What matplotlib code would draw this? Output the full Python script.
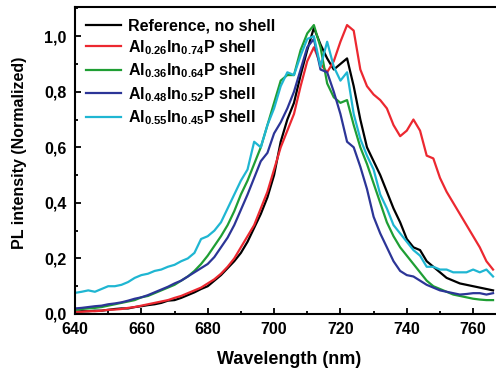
import matplotlib
matplotlib.use("Agg")
import matplotlib.pyplot as plt
from matplotlib.ticker import MultipleLocator, FuncFormatter

plt.rcParams['font.family'] = ['Liberation Sans', 'DejaVu Sans']
plt.rcParams['font.weight'] = 'bold'
plt.rcParams['mathtext.fontset'] = 'custom'
plt.rcParams['mathtext.rm'] = 'Liberation Sans:bold'
plt.rcParams['mathtext.bf'] = 'Liberation Sans:bold'
plt.rcParams['mathtext.it'] = 'Liberation Sans:bold'

wavelength = list(range(640, 767, 2))

reference = [0.008, 0.010, 0.010, 0.012, 0.012, 0.015, 0.018, 0.020, 0.020, 0.025,
             0.028, 0.032, 0.035, 0.040, 0.048, 0.050, 0.058, 0.068, 0.078, 0.090,
             0.100, 0.120, 0.140, 0.165, 0.190, 0.220, 0.260, 0.310, 0.360, 0.420,
             0.500, 0.620, 0.700, 0.760, 0.860, 0.950, 1.030, 0.970, 0.920, 0.880,
             0.900, 0.920, 0.820, 0.700, 0.600, 0.550, 0.500, 0.440, 0.380, 0.330,
             0.270, 0.240, 0.230, 0.190, 0.170, 0.150, 0.130, 0.120, 0.110, 0.105,
             0.100, 0.095, 0.090, 0.085]

al26 = [0.008, 0.008, 0.010, 0.010, 0.012, 0.015, 0.016, 0.018, 0.022, 0.025,
        0.030, 0.035, 0.040, 0.045, 0.050, 0.058, 0.065, 0.075, 0.085, 0.095,
        0.110, 0.125, 0.145, 0.170, 0.200, 0.240, 0.280, 0.320, 0.380, 0.440,
        0.520, 0.600, 0.660, 0.720, 0.820, 0.910, 0.960, 0.900, 0.870, 0.910,
        0.980, 1.040, 1.020, 0.880, 0.820, 0.790, 0.770, 0.740, 0.680, 0.640,
        0.660, 0.700, 0.660, 0.570, 0.560, 0.490, 0.440, 0.400, 0.360, 0.320,
        0.280, 0.240, 0.190, 0.160]

al36 = [0.015, 0.018, 0.020, 0.022, 0.025, 0.030, 0.035, 0.040, 0.045, 0.050,
        0.060, 0.065, 0.075, 0.085, 0.095, 0.105, 0.120, 0.135, 0.155, 0.180,
        0.210, 0.245, 0.280, 0.320, 0.370, 0.430, 0.480, 0.540, 0.600, 0.680,
        0.760, 0.840, 0.860, 0.860, 0.950, 1.010, 1.040, 0.960, 0.830, 0.780,
        0.760, 0.770, 0.680, 0.600, 0.540, 0.470, 0.400, 0.330, 0.280, 0.240,
        0.210, 0.180, 0.150, 0.120, 0.100, 0.090, 0.080, 0.070, 0.065, 0.060,
        0.055, 0.052, 0.050, 0.050]

al48 = [0.020, 0.022, 0.025, 0.028, 0.030, 0.035, 0.038, 0.042, 0.048, 0.055,
        0.060, 0.068, 0.078, 0.088, 0.098, 0.110, 0.120, 0.135, 0.150, 0.165,
        0.180, 0.205, 0.240, 0.275, 0.320, 0.375, 0.430, 0.490, 0.550, 0.580,
        0.650, 0.690, 0.740, 0.800, 0.880, 0.960, 0.990, 0.880, 0.870, 0.800,
        0.720, 0.620, 0.600, 0.530, 0.450, 0.350, 0.290, 0.240, 0.190, 0.155,
        0.140, 0.135, 0.120, 0.105, 0.095, 0.085, 0.080, 0.075, 0.070, 0.072,
        0.075, 0.075, 0.070, 0.075]

al55 = [0.076, 0.080, 0.085, 0.080, 0.090, 0.100, 0.100, 0.105, 0.115, 0.130,
        0.140, 0.145, 0.155, 0.160, 0.170, 0.177, 0.190, 0.200, 0.220, 0.270,
        0.280, 0.300, 0.330, 0.380, 0.430, 0.480, 0.520, 0.620, 0.600, 0.680,
        0.740, 0.820, 0.870, 0.860, 0.930, 0.990, 1.000, 0.890, 0.980, 0.890,
        0.840, 0.870, 0.720, 0.630, 0.570, 0.520, 0.430, 0.380, 0.320, 0.290,
        0.260, 0.230, 0.210, 0.170, 0.170, 0.160, 0.160, 0.150, 0.150, 0.150,
        0.160, 0.150, 0.160, 0.135]

labels = ['Reference, no shell',
          r'Al$_{0.26}$In$_{0.74}$P shell',
          r'Al$_{0.36}$In$_{0.64}$P shell',
          r'Al$_{0.48}$In$_{0.52}$P shell',
          r'Al$_{0.55}$In$_{0.45}$P shell']
series = [reference, al26, al36, al48, al55]
colors = ['#000000', '#ec2830', '#1f9e34', '#2c3597', '#1fb6d2']

fig = plt.figure(figsize=(4.96, 3.69), dpi=100)
W, H = 496, 369
ax = fig.add_axes([75 / W, 55 / H, 428 / W, 307 / H])

for y, c, lab in zip(series, colors, labels):
    ax.plot(wavelength, y, color=c, lw=1.6, label=lab)

ax.set_xlim(640, 769)
ax.set_ylim(0, 1.105)
ax.xaxis.set_major_locator(MultipleLocator(20))
ax.xaxis.set_minor_locator(MultipleLocator(10))
ax.yaxis.set_major_locator(MultipleLocator(0.2))
ax.yaxis.set_minor_locator(MultipleLocator(0.1))
ax.yaxis.set_major_formatter(FuncFormatter(lambda v, p: f"{v:.1f}".replace('.', ',')))
ax.tick_params(which='both', direction='in', width=1.3, labelsize=11.5)
ax.tick_params(axis='x', which='major', pad=6)
ax.tick_params(axis='y', which='major', pad=6)
ax.tick_params(which='major', length=4.5)
ax.tick_params(which='minor', length=2.5)
for s in ax.spines.values():
    s.set_linewidth(1.5)
for t in ax.get_xticklabels() + ax.get_yticklabels():
    t.set_fontweight('bold')

ax.set_xlabel('Wavelength (nm)', fontsize=13, fontweight='bold', labelpad=9.5)
ax.set_ylabel('PL intensity (Normalized)', fontsize=11.5, fontweight='bold')
ax.yaxis.set_label_coords(-0.112, 0.526)

leg = ax.legend(loc='upper left', frameon=False, handlelength=2.2,
                handletextpad=0.4, labelspacing=0.3, borderaxespad=0.3,
                prop={'weight': 'bold', 'size': 11.5})

fig.savefig('out.png', dpi=100)
